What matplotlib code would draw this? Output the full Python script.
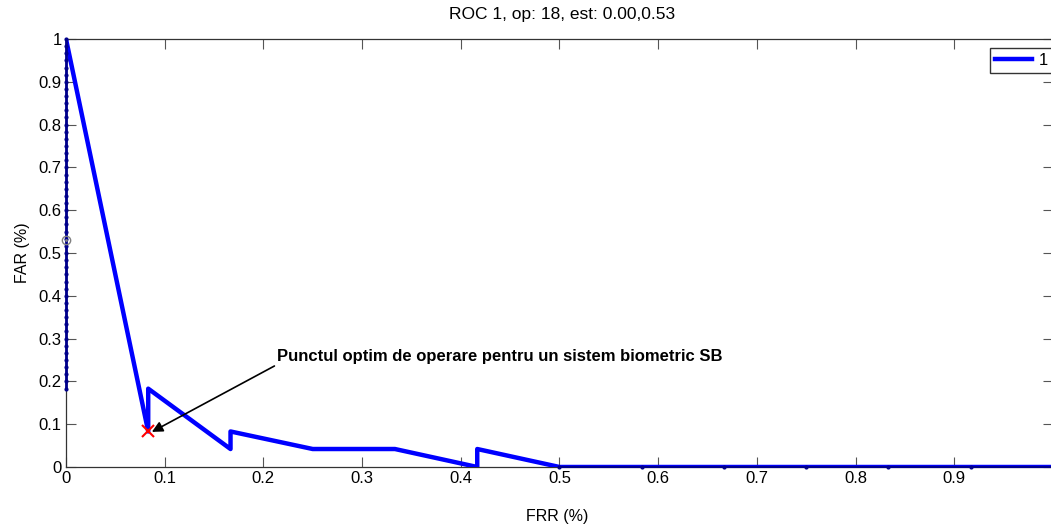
import numpy as np
import matplotlib
matplotlib.use('Agg')
import matplotlib.pyplot as plt

plt.rcParams['font.family'] = ['Liberation Sans', 'DejaVu Sans']

# ROC curve (FRR, FAR)
frr = [0.0, 0.0833, 0.0833, 0.1667, 0.1667, 0.25, 0.3333, 0.4167, 0.4167, 0.5, 1.0]
far = [1.0, 0.083, 0.183, 0.042, 0.083, 0.042, 0.042, 0.0, 0.042, 0.0, 0.0]

# sampled thresholds along the axes (thin dotted trace)
edge_y = [0.183, 0.20, 0.217, 0.233, 0.25, 0.267, 0.283, 0.30, 0.317, 0.333, 0.35,
          0.367, 0.383, 0.40, 0.417, 0.433, 0.45, 0.467, 0.483, 0.50, 0.517, 0.533,
          0.55, 0.567, 0.583, 0.60, 0.617, 0.633, 0.65, 0.667, 0.683, 0.70, 0.717,
          0.733, 0.75, 0.767, 0.783, 0.80, 0.817, 0.833, 0.85, 0.867, 0.883, 0.90,
          0.917, 0.933, 0.95, 0.967, 0.983, 1.0]
edge_x = [0.5, 0.5833, 0.6667, 0.75, 0.8333, 0.9167, 1.0]

op_point = (0.0833, 0.083)
est_point = (0.0, 0.53)

fig = plt.figure(figsize=(10.51, 5.24), dpi=100)
ax = fig.add_axes([0.0628, 0.1088, 0.939, 0.8168])

ax.plot([0] * len(edge_y), edge_y, color='#00008b', lw=2, marker='.', ms=4,
        zorder=5, clip_on=False)
ax.plot(edge_x, [0] * len(edge_x), color='#00008b', lw=1.5, marker='.', ms=4,
        zorder=5, clip_on=False)
ax.plot(frr, far, color='#0000ff', lw=3.2, label='1', zorder=3)

ax.plot(*op_point, marker='x', color='red', ms=8, mew=1.5, zorder=6)
ax.plot(*est_point, marker='o', mfc='none', mec='gray', ms=6, mew=1, zorder=6, clip_on=False)
ax.plot(*est_point, marker='.', color='gray', ms=2, zorder=6, clip_on=False)

ax.annotate('Punctul optim de operare pentru un sistem biometric SB',
            xy=(0.087, 0.082), xytext=(0.214, 0.257), textcoords='data',
            fontsize=12, fontweight='bold', ha='left', va='center',
            arrowprops=dict(arrowstyle='-|>', color='black', lw=1.2,
                            shrinkA=0, shrinkB=0, mutation_scale=16,
                            relpos=(0.0, 0.0)))

ax.set_xlim(0, 1)
ax.set_ylim(0, 1)
ax.set_xticks([0, 0.1, 0.2, 0.3, 0.4, 0.5, 0.6, 0.7, 0.8, 0.9, 1.0])
ax.set_xticklabels(['0', '0.1', '0.2', '0.3', '0.4', '0.5', '0.6', '0.7', '0.8', '0.9', ''])
ax.set_yticks([0, 0.1, 0.2, 0.3, 0.4, 0.5, 0.6, 0.7, 0.8, 0.9, 1.0])
ax.set_yticklabels(['0', '0.1', '0.2', '0.3', '0.4', '0.5', '0.6', '0.7', '0.8', '0.9', '1'])
ax.tick_params(direction='in', top=True, right=True, length=7, width=0.8,
               labelsize=12, pad=3, color='#555555')
for s in ax.spines.values():
    s.set_linewidth(0.9)
    s.set_color('#333333')

ax.legend(loc='upper right', bbox_to_anchor=(1.0, 0.98), fontsize=12,
          frameon=True, fancybox=False, edgecolor='black', handlelength=2.2,
          borderpad=0.3, handletextpad=0.4, borderaxespad=0)

fig.text(562 / 1051, 1 - 15 / 524, 'ROC 1, op: 18, est: 0.00,0.53',
         ha='center', va='center', fontsize=12.5)
fig.text(557 / 1051, 1 - 517 / 524, 'FRR (%)', ha='center', va='center', fontsize=11.5)
fig.text(23 / 1051, 1 - 253 / 524, 'FAR (%)', ha='center', va='center', fontsize=11.5,
         rotation=90)

fig.savefig('out.png', dpi=100)
